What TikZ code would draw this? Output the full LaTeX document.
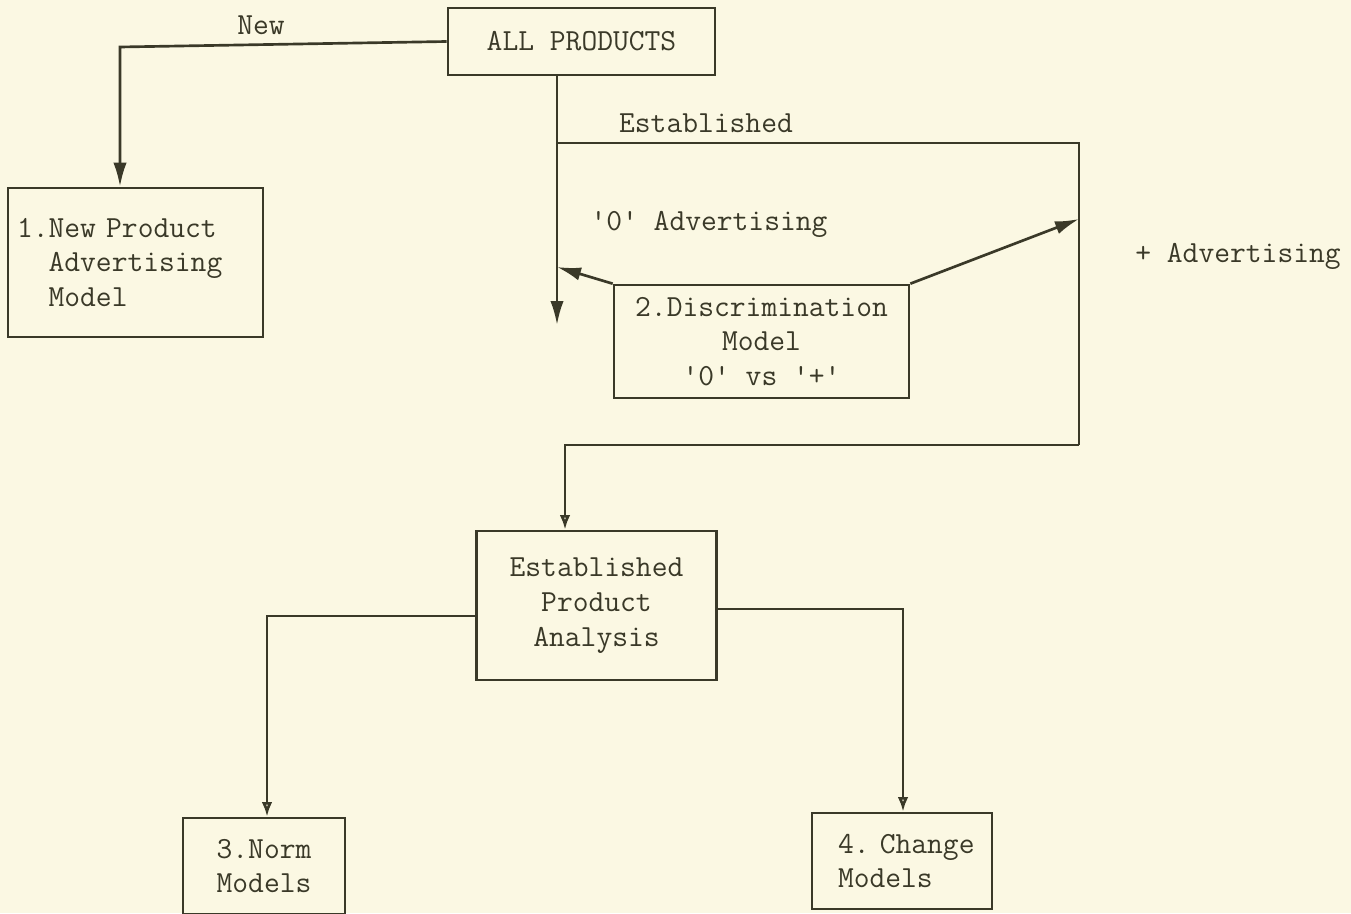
\documentclass[tikz,border=0pt]{standalone}
\usetikzlibrary{arrows.meta}
\definecolor{paper}{HTML}{FBF8E3}
\definecolor{ink}{HTML}{3A3928}
\newcommand{\q}{\textquotesingle}
\begin{document}
\begin{tikzpicture}[x=0.75pt,y=-0.75pt,
  every node/.style={font=\ttfamily\fontsize{23}{26}\selectfont, text=ink},
  box/.style={draw=ink, line width=2pt, inner sep=0pt},
  ln/.style={draw=ink, line width=2pt},
  arr/.style={ln, -{Latex[length=18pt,width=10pt]}},
  oarr/.style={ln, -{Latex[open,length=11pt,width=8pt,fill=paper]}},
  lab/.style={inner sep=0pt}]
\fill[paper] (0,0) rectangle (1351,913);
\useasboundingbox (0,0) rectangle (1351,913);

% boxes
\node[box, minimum width=200.25pt, minimum height=50.25pt] (allp) at (581.5,41.5) {ALL PRODUCTS};
\node[box, minimum width=191.25pt, minimum height=111.75pt, text width=177.75pt, align=left] (box1) at (135.5,262.5)
  {1.New Product\\\phantom{1.}Advertising\\\phantom{1.}Model};
\node[box, minimum width=221.25pt, minimum height=84.75pt, align=center] (disc) at (761.5,341.5)
  {2.Discrimination\\Model\\\q0\q{} vs \q+\q};
\node[box, minimum width=180pt, minimum height=111.75pt, align=center] (epa) at (596.5,605.5)
  {Established\\Product\\Analysis};
\node[box, minimum width=121.5pt, minimum height=72pt, align=left] (norm) at (264,866)
  {3.Norm\\Models};
\node[box, minimum width=135pt, minimum height=72pt, text width=120pt, align=left] (change) at (902,861)
  {\hspace*{12pt}4.~Change\\\hspace*{12pt}Models};

% labels
\node[lab] (lnew) at (261,25) {New};
\node[lab] (lest) at (706,123) {Established};
\node[lab] (lzero) at (709,224) {\q0\q{} Advertising};
\node[lab] (lplus) at (1238,256) {+ Advertising};

% coordinates
\coordinate (n1) at (120,47);
\coordinate (vend) at (557,325);
\coordinate (e1) at (557,143);
\coordinate (e2) at (1079,143);
\coordinate (e3) at (1079,445);
\coordinate (e4) at (565,445);
\coordinate (d0) at (557,267);
\coordinate (d1) at (1079,219);
\coordinate (l1) at (267,616);
\coordinate (r1) at (903,609);

% connectors
\draw[arr] (allp.west) -- (n1) -- (n1 |- box1.north);
\draw[arr] (allp.south -| vend) -- (vend);
\draw[ln] (e1) -- (e2) -- (e3);
\draw[oarr] (e3) -- (e4) -- (e4 |- epa.north);
\draw[arr] (disc.north west) -- (d0);
\draw[arr] (disc.north east) -- (d1);
\draw[oarr] (epa.west |- l1) -- (l1) -- (l1 |- norm.north);
\draw[oarr] (epa.east |- r1) -- (r1) -- (r1 |- change.north);
\end{tikzpicture}
\end{document}
